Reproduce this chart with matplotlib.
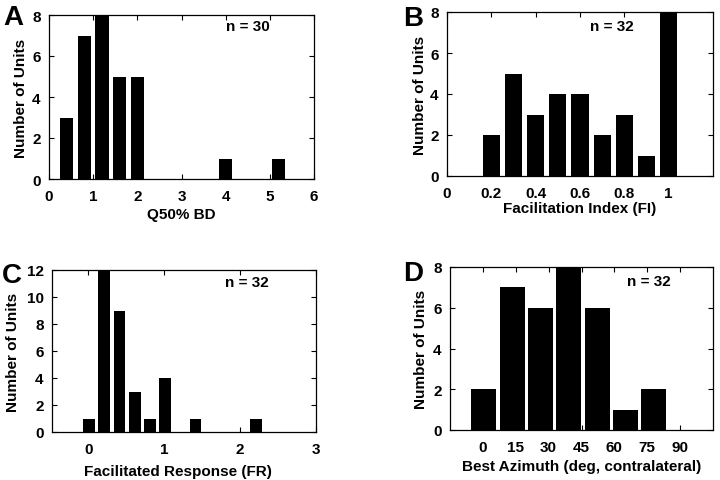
import numpy as np
import matplotlib
matplotlib.use("Agg")
import matplotlib.pyplot as plt

# panel A: Q50% BD
a_centers = [0.4, 0.8, 1.2, 1.6, 2.0, 2.4, 2.8, 3.2, 3.6, 4.0, 4.4, 4.8, 5.2]
a_counts = [3, 7, 8, 5, 5, 0, 0, 0, 0, 1, 0, 0, 1]
a_ticks = [0, 1, 2, 3, 4, 5, 6]

# panel B: facilitation index
b_centers = [0.1, 0.2, 0.3, 0.4, 0.5, 0.6, 0.7, 0.8, 0.9, 1.0]
b_counts = [0, 2, 5, 3, 4, 4, 2, 3, 1, 8]
b_ticks = [0, 0.2, 0.4, 0.6, 0.8, 1.0]
b_ticklabels = ["0", "0.2", "0.4", "0.6", "0.8", "1"]

# panel C: facilitated response
c_centers = [0.01, 0.21, 0.41, 0.61, 0.81, 1.01, 1.21, 1.41, 1.61, 1.81, 2.01, 2.21]
c_counts = [1, 12, 9, 3, 1, 4, 0, 1, 0, 0, 0, 1]
c_ticks = [0, 1, 2, 3]

# panel D: best azimuth
d_centers = [0.5, 13.4, 26.3, 39.2, 52.1, 65.0, 77.9]
d_counts = [2, 7, 6, 8, 6, 1, 2]
d_ticks = [0, 15, 30, 45, 60, 75, 90]

W, H = 720, 481
FONT = "Liberation Sans"
plt.rcParams["font.family"] = [FONT, "DejaVu Sans"]
plt.rcParams["font.weight"] = "bold"
plt.rcParams["font.size"] = 11

fig = plt.figure(figsize=(W / 100, H / 100), dpi=100)


def box(left, right, top, bottom):
    # pixel box -> figure fraction
    return [left / W, 1 - bottom / H, (right - left) / W, (bottom - top) / H]


def panel(rect, centers, counts, width, xlim, ylim, xticks, yticks, xlabel,
          ntext, npos, ylab_x, xlab_y, xlab_x=0.5, xticklabels=None):
    ax = fig.add_axes(rect)
    ax.bar(centers, counts, width=width, color="black", edgecolor="none", zorder=3)
    ax.set_xlim(*xlim)
    ax.set_ylim(*ylim)
    ax.set_xticks(xticks)
    if xticklabels is not None:
        ax.set_xticklabels(xticklabels)
    ax.set_yticks(yticks)
    ax.tick_params(direction="in", top=True, right=True, length=3.5, width=0.8,
                   labelsize=11)
    ax.tick_params(axis="x", pad=7)
    ax.tick_params(axis="y", pad=6)
    for s in ax.spines.values():
        s.set_linewidth(0.9)
    ax.set_ylabel("Number of Units", fontsize=11, fontweight="bold")
    ax.yaxis.set_label_coords(ylab_x, 0.5)
    ax.set_xlabel(xlabel, fontsize=11, fontweight="bold")
    ax.xaxis.set_label_coords(xlab_x, xlab_y)
    ax.text(npos[0], npos[1], ntext, transform=ax.transAxes, ha="center",
            va="center", fontsize=11, fontweight="bold")
    return ax


panel(box(49, 314, 16, 180), a_centers, a_counts, 0.3, (0, 6), (0, 8),
      a_ticks, [0, 2, 4, 6, 8], "Q50% BD", "n = 30", (0.75, 0.93), -0.08, -0.17)

panel(box(447, 713, 13, 177), b_centers, b_counts, 0.077, (0, 1.2), (0, 8),
      b_ticks, [0, 2, 4, 6, 8], "Facilitation Index (FI)", "n = 32",
      (0.62, 0.915), -0.075, -0.15, xticklabels=b_ticklabels)

panel(box(52, 316, 271, 433), c_centers, c_counts, 0.155, (-0.48, 3), (0, 12),
      c_ticks, [0, 2, 4, 6, 8, 10, 12], "Facilitated Response (FR)", "n = 32",
      (0.74, 0.926), -0.12, -0.2, xlab_x=0.477)

panel(box(450, 713, 268, 431), d_centers, d_counts, 11.4, (-15, 105), (0, 8),
      d_ticks, [0, 2, 4, 6, 8], "Best Azimuth (deg, contralateral)", "n = 32",
      (0.757, 0.914), -0.084, -0.18)

for letter, x, y in [("A", 13, 18), ("B", 413, 19), ("C", 12, 276), ("D", 413, 274)]:
    fig.text(x / W, 1 - y / H, letter, fontsize=20, fontweight="bold",
             ha="center", va="center")

fig.savefig("out.png", dpi=100)
